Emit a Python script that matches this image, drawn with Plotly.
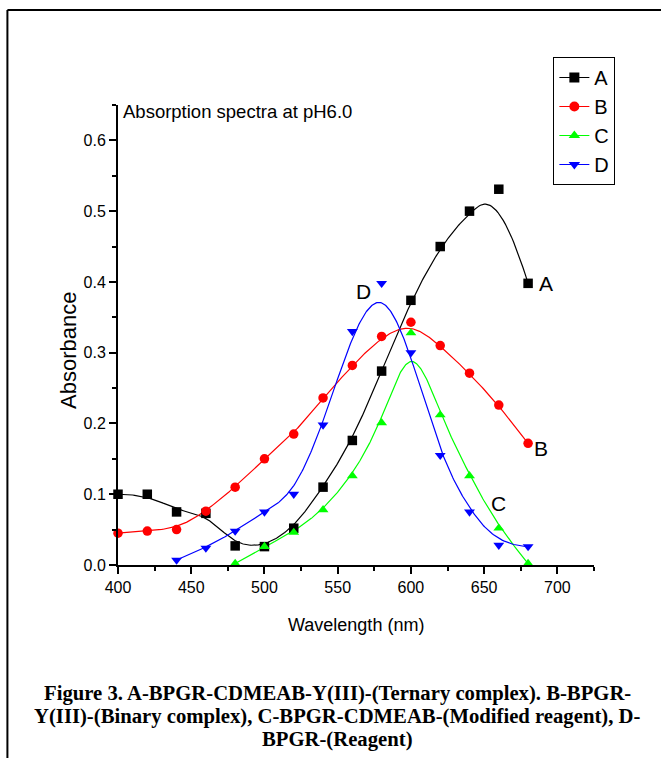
import numpy as np
import plotly.graph_objects as go

# ---- data: absorbance readings (wavelength in nm) ----
wl_a = [400, 420, 440, 460, 480, 500, 520, 540, 560, 580, 600, 620, 640, 660, 680]
abs_a = [0.100, 0.100, 0.075, 0.073, 0.027, 0.026, 0.052, 0.110, 0.176, 0.274, 0.374, 0.450, 0.500, 0.531, 0.398]

wl_b = [400, 420, 440, 460, 480, 500, 520, 540, 560, 580, 600, 620, 640, 660, 680]
abs_b = [0.045, 0.048, 0.050, 0.076, 0.110, 0.150, 0.185, 0.236, 0.282, 0.323, 0.343, 0.310, 0.271, 0.226, 0.172]

wl_c = [480, 500, 520, 540, 560, 580, 600, 620, 640, 660, 680]
abs_c = [0.002, 0.026, 0.046, 0.078, 0.126, 0.201, 0.328, 0.212, 0.126, 0.052, 0.002]

wl_d = [440, 460, 480, 500, 520, 540, 560, 580, 600, 620, 640, 660, 680]
abs_d = [0.007, 0.024, 0.048, 0.075, 0.100, 0.198, 0.330, 0.398, 0.300, 0.155, 0.075, 0.028, 0.026]

series_names = ["A", "B", "C", "D"]
series_colors = ["#000000", "#ff0000", "#00ff00", "#0000ff"]
series_symbols = ["square", "circle", "triangle-up", "triangle-down"]

caption_lines = [
    "Figure 3. A-BPGR-CDMEAB-Y(III)-(Ternary complex). B-BPGR-",
    "Y(III)-(Binary complex), C-BPGR-CDMEAB-(Modified reagent), D-",
    "BPGR-(Reagent)",
]

# ---- page geometry (pixels) ----
W, H = 661, 758
L, R, T, B = 118, 67.4, 105, 193
PW, PH = W - L - R, H - T - B


def px_x(px):
    return (px - L) / PW


def px_y(py):
    return (H - B - py) / PH


def bspline(xs, ys, n=400, k=3):
    """Clamped uniform cubic B-spline using the points as control points."""
    P = np.column_stack([xs, ys]).astype(float)
    m = len(P)
    knots = np.concatenate([[0.0] * k, np.linspace(0, 1, m - k + 1), [1.0] * k])
    t = np.linspace(0, 1, n)
    t[-1] = 1 - 1e-12

    def basis(i, d):
        if d == 0:
            return ((knots[i] <= t) & (t < knots[i + 1])).astype(float)
        out = np.zeros_like(t)
        den1 = knots[i + d] - knots[i]
        den2 = knots[i + d + 1] - knots[i + 1]
        if den1 > 0:
            out += (t - knots[i]) / den1 * basis(i, d - 1)
        if den2 > 0:
            out += (knots[i + d + 1] - t) / den2 * basis(i + 1, d - 1)
        return out

    N = np.array([basis(i, k) for i in range(m)])
    C = N.T @ P
    return C[:, 0], C[:, 1]


fig = go.Figure()

all_x = [wl_a, wl_b, wl_c, wl_d]
all_y = [abs_a, abs_b, abs_c, abs_d]

# smooth curves
for xs, ys, col in zip(all_x, all_y, series_colors):
    cx, cy = bspline(xs, ys)
    fig.add_trace(go.Scatter(x=cx, y=cy, mode="lines", line=dict(color=col, width=1.2),
                             showlegend=False, hoverinfo="skip"))

# measured points
for xs, ys, col, sym, name in zip(all_x, all_y, series_colors, series_symbols, series_names):
    fig.add_trace(go.Scatter(x=xs, y=ys, mode="markers", name=name, showlegend=False,
                             marker=dict(color=col, symbol=sym, size=9.5, line=dict(width=0)),
                             cliponaxis=False))

# legend entries
for col, sym, name in zip(series_colors, series_symbols, series_names):
    fig.add_trace(go.Scatter(x=[None], y=[None], mode="lines+markers", name=name,
                             line=dict(color=col, width=1.2),
                             marker=dict(color=col, symbol=sym, size=10)))

font_main = "Liberation Sans, Arial, sans-serif"

annotations = [
    dict(text="Absorption spectra at pH6.0", x=px_x(121), y=px_y(111), xref="paper", yref="paper",
         xanchor="left", yanchor="middle", showarrow=False, font=dict(size=18.5, color="black")),
    dict(text="Absorbance", x=px_x(68), y=px_y(350), xref="paper", yref="paper", textangle=-90,
         xanchor="center", yanchor="middle", showarrow=False, font=dict(size=22, color="black")),
    dict(text="Wavelength (nm)", x=px_x(356), y=px_y(625), xref="paper", yref="paper",
         xanchor="center", yanchor="middle", showarrow=False, font=dict(size=18, color="black")),
]

# figure caption, one line per annotation
for i, line in enumerate(caption_lines):
    annotations.append(dict(text=line, x=px_x(337), y=px_y(693 + 23 * i), xref="paper", yref="paper",
                            xanchor="center", yanchor="middle", showarrow=False,
                            font=dict(size=20.7, color="black",
                                      family="Liberation Serif, Times New Roman, serif", weight="bold")))

# curve labels placed next to selected points of each series
curve_labels = [("A", wl_a[-1], abs_a[-1], 18, 0), ("B", wl_b[-1], abs_b[-1], 13, -5),
                ("C", wl_c[-2], abs_c[-2], 0, 25), ("D", wl_d[7], abs_d[7], -18, -8)]
for txt, x, y, dx, dy in curve_labels:
    annotations.append(dict(text=txt, x=x, y=y, xref="x", yref="y", xshift=dx, yshift=dy,
                            xanchor="center", yanchor="middle", showarrow=False,
                            font=dict(size=21, color="black")))

shapes = [
    dict(type="line", xref="paper", yref="paper", x0=px_x(7.5), x1=px_x(7.5), y0=px_y(10), y1=px_y(H + 5),
         line=dict(color="black", width=2)),
    dict(type="line", xref="paper", yref="paper", x0=px_x(7.5), x1=px_x(W + 5), y0=px_y(10), y1=px_y(10),
         line=dict(color="black", width=2)),
]

axis_common = dict(showgrid=False, zeroline=False, showline=True, linecolor="black", linewidth=2,
                   ticks="outside", ticklen=7, tickwidth=1.5, tickcolor="black",
                   tickfont=dict(size=16, color="black"))

fig.update_layout(
    width=W, height=H, margin=dict(l=L, r=R, t=T, b=B),
    paper_bgcolor="white", plot_bgcolor="white",
    font=dict(family=font_main, color="black"),
    xaxis=dict(range=[400, 725], tick0=400, dtick=50,
               minor=dict(dtick=25, ticks="outside", ticklen=4, tickwidth=1.5, tickcolor="black"),
               **axis_common),
    yaxis=dict(range=[0, 0.65], tick0=0, dtick=0.1, tickformat=".1f",
               minor=dict(dtick=0.05, ticks="outside", ticklen=4, tickwidth=1.5, tickcolor="black"),
               **axis_common),
    legend=dict(x=px_x(553), y=px_y(57), xanchor="left", yanchor="top",
                bgcolor="white", bordercolor="black", borderwidth=1,
                font=dict(size=20, color="black"), itemwidth=30),
    annotations=annotations,
    shapes=shapes,
)

fig.write_html("out.html")
